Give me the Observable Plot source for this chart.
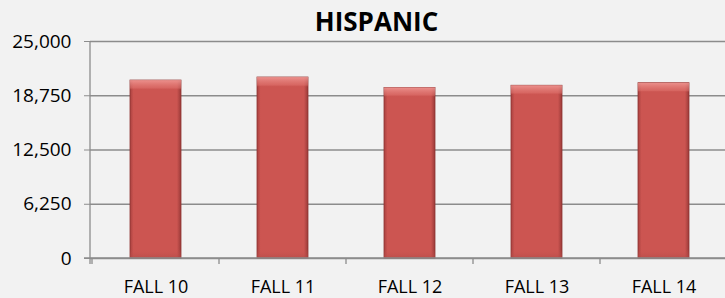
<!DOCTYPE html>
<html>
<head>
<meta charset="utf-8">
<script src="https://cdn.jsdelivr.net/npm/d3@7"></script>
<script src="https://cdn.jsdelivr.net/npm/@observablehq/plot@0.6"></script>
<style>
  html, body { margin: 0; padding: 0; background: #f2f2f2; }
  #wrap { position: relative; width: 725px; height: 298px; overflow: hidden; background: #f2f2f2; }
  #title { position: absolute; left: 90px; width: 573px; top: 8px; text-align: center;
           font: bold 26px/26px "Open Sans", sans-serif; color: #000; }
  svg { display: block; }
</style>
</head>
<body>
<div id="wrap">
  <div id="title">HISPANIC</div>
</div>
<script>
const categories = ["FALL 10", "FALL 11", "FALL 12", "FALL 13", "FALL 14"];
const values = [20500, 20850, 19650, 19900, 20200];
const yTicks = [0, 6250, 12500, 18750, 25000];

const data = categories.map((c, i) => ({term: c, count: values[i]}));

const chart = Plot.plot({
  width: 725,
  height: 298,
  marginTop: 41,
  marginBottom: 40,
  marginLeft: 90,
  marginRight: 0,
  style: {background: "transparent", fontFamily: "Open Sans, sans-serif", color: "#000"},
  x: {domain: categories, range: [90, 728], paddingInner: 0.6, paddingOuter: 0.3, label: null},
  y: {domain: [0, 25000], label: null},
  marks: [
    Plot.ruleY(yTicks, {stroke: "#8c8c8c", strokeWidth: 1.3}),
    Plot.barY(data, {x: "term", y: "count", fill: "url(#barGradH)", stroke: "#8f3533", strokeWidth: 0.8}),
    Plot.barY(data, {x: "term", y: "count", fill: "url(#barGradV)"}),
    Plot.axisY({ticks: yTicks, tickSize: 6, tickPadding: 13, tickFormat: d3.format(","), stroke: "#8c8c8c",
                fontSize: 19, fill: "#000"}),
    Plot.axisX({tickSize: 0, tickPadding: 22, fontSize: 18, fill: "#000"})
  ]
});

// gradients + axis lines + category boundary ticks using the chart's scales
const svg = d3.select(chart);
const defs = svg.insert("defs", ":first-child");
const gh = defs.append("linearGradient").attr("id", "barGradH").attr("x1", 0).attr("x2", 1).attr("y1", 0).attr("y2", 0);
gh.append("stop").attr("offset", "0%").attr("stop-color", "#a9413f");
gh.append("stop").attr("offset", "7%").attr("stop-color", "#cc5551");
gh.append("stop").attr("offset", "92%").attr("stop-color", "#cc5551");
gh.append("stop").attr("offset", "100%").attr("stop-color", "#9a3a38");
const gv = defs.append("linearGradient").attr("id", "barGradV").attr("x1", 0).attr("x2", 0).attr("y1", 0).attr("y2", 1);
gv.append("stop").attr("offset", "0%").attr("stop-color", "#f4a09c").attr("stop-opacity", 0.8);
gv.append("stop").attr("offset", "4.5%").attr("stop-color", "#e27772").attr("stop-opacity", 0.5);
gv.append("stop").attr("offset", "5.5%").attr("stop-color", "#cc5551").attr("stop-opacity", 0);
gv.append("stop").attr("offset", "95%").attr("stop-color", "#cc5551").attr("stop-opacity", 0);
gv.append("stop").attr("offset", "100%").attr("stop-color", "#b04a47").attr("stop-opacity", 0.6);

const xs = chart.scale("x");
const ys = chart.scale("y");
const y0 = ys.apply(0), yTop = ys.apply(25000);
const step = xs.step;
const left = xs.range[0];
const g = svg.append("g").attr("stroke", "#8c8c8c").attr("stroke-width", 1.3);
// y axis line
g.append("line").attr("x1", left).attr("x2", left).attr("y1", yTop).attr("y2", y0 + 6);
// x axis line
g.append("line").attr("x1", left - 6).attr("x2", 725).attr("y1", y0).attr("y2", y0);
// boundary ticks between categories
categories.forEach((c, i) => {
  const bx = xs.apply(c) - (step - xs.bandwidth) / 2;
  g.append("line").attr("x1", bx).attr("x2", bx).attr("y1", y0).attr("y2", y0 + 6);
});

document.getElementById("wrap").appendChild(chart);
</script>
</body>
</html>
